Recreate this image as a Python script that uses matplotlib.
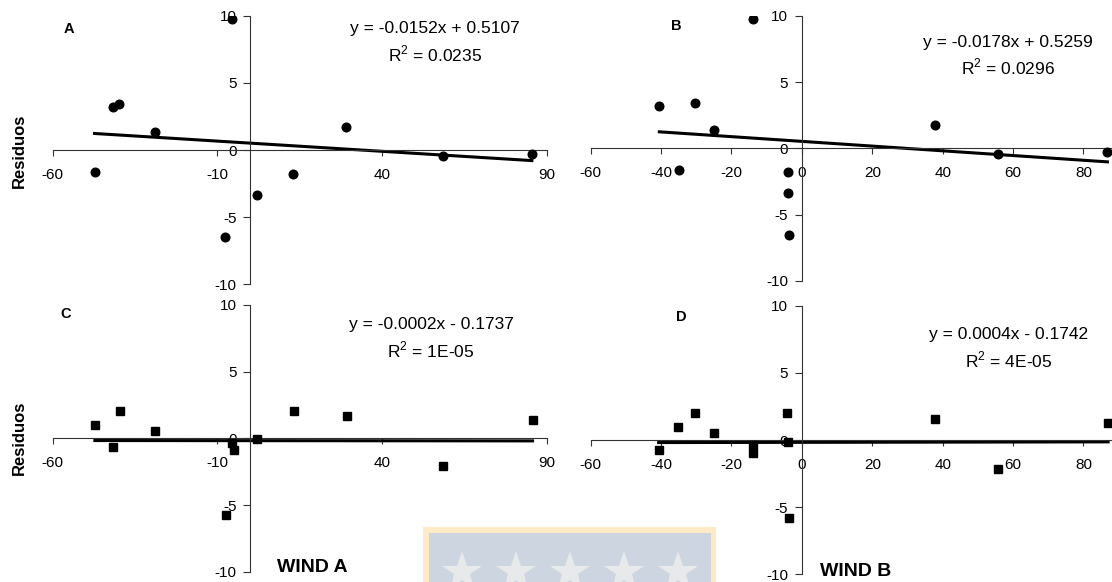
import matplotlib
matplotlib.use('Agg')
import matplotlib.pyplot as plt
from matplotlib.patches import Rectangle
import numpy as np

plt.rcParams['font.family'] = ['Liberation Sans', 'DejaVu Sans']
plt.rcParams['axes.unicode_minus'] = False
plt.rcParams['mathtext.fontset'] = 'custom'
plt.rcParams['mathtext.rm'] = 'Liberation Sans'

W, H = 1112, 582

# top row: residuals (circles) against wind A and wind B
wind_a_top = [-47.3, -41.6, -39.8, -29.0, -5.7, -7.7, 1.9, 13.1, 29.0, 58.4, 85.5]
res_a_top = [-1.61, 3.23, 3.42, 1.36, 9.75, -6.5, -3.33, -1.81, 1.71, -0.45, -0.27]
wind_b_top = [-40.5, -34.9, -30.5, -25.1, -13.9, -4.0, -4.0, -3.8, 37.8, 55.8, 86.8]
res_b_top = [3.19, -1.63, 3.44, 1.38, 9.75, -1.81, -3.34, -6.5, 1.73, -0.45, -0.28]

# bottom row: residuals (squares)
wind_a_bot = [-47.2, -41.6, -39.6, -28.8, -7.5, -5.5, -4.8, 2.1, 13.3, 29.4, 58.6, 85.7]
res_a_bot = [1.02, -0.63, 2.08, 0.58, -5.75, -0.35, -0.88, -0.05, 2.08, 1.68, -2.1, 1.38]
wind_b_bot = [-40.7, -35.1, -30.4, -25.1, -14.0, -14.0, -4.2, -4.0, -3.8, 37.7, 55.7, 87.0]
res_b_bot = [-0.72, 0.97, 2.03, 0.52, -0.4, -0.94, 2.03, -0.12, -5.83, 1.59, -2.18, 1.29]

# trend lines (slope, intercept) and labels
fits = {'A': (-0.0152, 0.5107), 'B': (-0.0178, 0.5259),
        'C': (-0.0002, -0.1737), 'D': (0.0004, -0.1742)}
eqs = {'A': 'y = -0.0152x + 0.5107', 'B': 'y = -0.0178x + 0.5259',
       'C': 'y = -0.0002x - 0.1737', 'D': 'y = 0.0004x - 0.1742'}
r2s = {'A': '0.0235', 'B': '0.0296', 'C': '1E-05', 'D': '4E-05'}

xticks_a = [-60, -10, 40, 90]
xticks_b = [-60, -40, -20, 0, 20, 40, 60, 80]
yticks = [-10, -5, 0, 5, 10]

fig = plt.figure(figsize=(W / 100, H / 100), dpi=100)


def fx(px):
    return px / W


def fy(py):
    return 1 - py / H


# watermark behind everything
bg = fig.add_axes([0, 0, 1, 1], zorder=0)
bg.set_xlim(0, W)
bg.set_ylim(H, 0)
bg.axis('off')
bg.add_patch(Rectangle((423, 527), 293, 60, color='#fdebc8', lw=0))
bg.add_patch(Rectangle((429, 533), 282, 55, color='#cdd6e0', lw=0))
bg.plot([462, 516, 570, 624, 678], [572] * 5, ls='none', marker='*',
        ms=30, color='#e8e9eb', mew=0)


def panel(rect_px, xs, ys, marker, xlim, xticks, key, letter_px, eq_px):
    x0, y_top, x1, y_bot = rect_px
    ax = fig.add_axes([fx(x0), fy(y_bot), fx(x1 - x0), (y_bot - y_top) / H],
                      zorder=1)
    ax.set_facecolor('none')
    ax.set_xlim(*xlim)
    ax.set_ylim(-10, 10)
    for s in ['top', 'right']:
        ax.spines[s].set_visible(False)
    ax.spines['left'].set_position(('data', 0))
    ax.spines['bottom'].set_position(('data', 0))
    for s in ['left', 'bottom']:
        ax.spines[s].set_linewidth(0.8)
        ax.spines[s].set_color('#333333')
    ax.set_xticks(xticks)
    ax.set_yticks(yticks)
    ax.tick_params(axis='x', direction='out', length=4, width=0.8,
                   color='#333333', pad=9, labelsize=11)
    ax.tick_params(axis='y', direction='out', length=5, width=0.8,
                   color='#333333', pad=5, labelsize=11)
    m, b = fits[key]
    lx = np.array([min(xs), min(max(xs), xlim[1])])
    ax.plot(lx, m * lx + b, color='black', lw=2.2, zorder=2)
    ax.plot(xs, ys, ls='none', marker=marker, ms=6.2, color='black', zorder=3)
    fig.text(fx(letter_px[0]), fy(letter_px[1]), key, fontsize=10.5,
             fontweight='bold', ha='center', va='center')
    fig.text(fx(eq_px[0]), fy(eq_px[1]), eqs[key], fontsize=12.5,
             ha='center', va='center')
    fig.text(fx(eq_px[0]), fy(eq_px[1] + 25), 'R$^2$ = ' + r2s[key],
             fontsize=12.5, ha='center', va='center')
    return ax


panel((52.7, 15.7, 546.7, 284.3), wind_a_top, res_a_top, 'o', (-60, 90),
      xticks_a, 'A', (69, 29), (435, 29))
panel((590.7, 15.7, 1112, 281), wind_b_top, res_b_top, 'o', (-60, 88.1),
      xticks_b, 'B', (676, 26), (1008, 42))
panel((52.7, 305, 546.7, 571.7), wind_a_bot, res_a_bot, 's', (-60, 90),
      xticks_a, 'C', (66, 314), (431, 325))
panel((590.7, 305.7, 1112, 574.3), wind_b_bot, res_b_bot, 's', (-60, 88.1),
      xticks_b, 'D', (681, 317), (1009, 335))

for yy in [151, 438]:
    fig.text(fx(19), fy(yy), 'Residuos', rotation=90, fontsize=12,
             fontweight='bold', ha='center', va='center')
fig.text(fx(312), fy(568), 'WIND A', fontsize=14, fontweight='bold',
         ha='center', va='center')
fig.text(fx(856), fy(571), 'WIND B', fontsize=14, fontweight='bold',
         ha='center', va='center')

fig.savefig('out.png', dpi=100)
